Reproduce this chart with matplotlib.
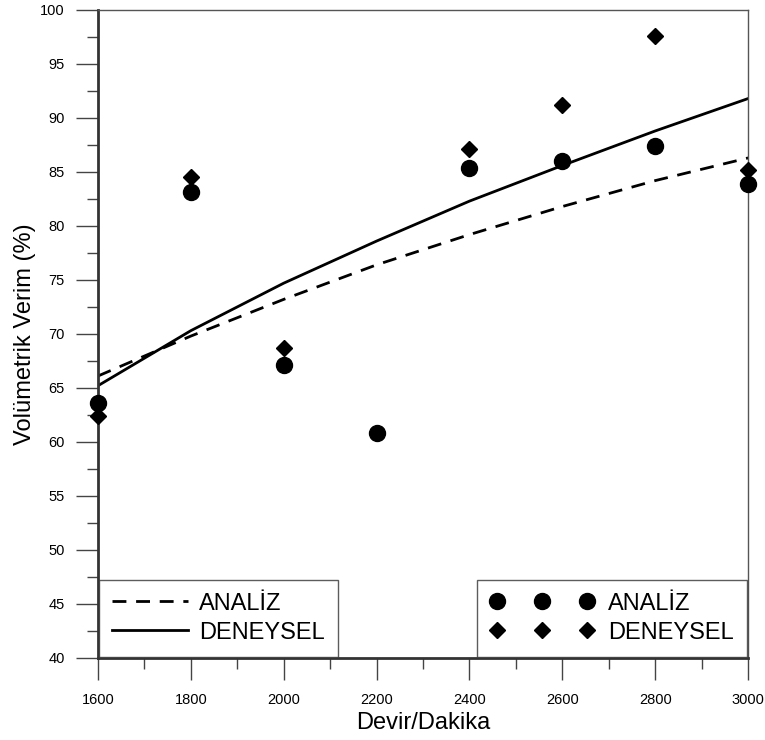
import matplotlib
matplotlib.use("Agg")
import matplotlib.pyplot as plt
from matplotlib.ticker import MultipleLocator

plt.rcParams['font.family'] = ['Liberation Sans', 'DejaVu Sans']

rpm = [1600, 1800, 2000, 2200, 2400, 2600, 2800, 3000]
analiz_pts = [63.6, 83.1, 67.1, 60.8, 85.4, 86.0, 87.4, 83.9]
deneysel_pts = [62.4, 84.5, 68.7, 60.8, 87.1, 91.2, 97.6, 85.2]
analiz_line = [66.1, 69.8, 73.2, 76.4, 79.2, 81.8, 84.2, 86.3]
deneysel_line = [65.2, 70.3, 74.7, 78.6, 82.3, 85.6, 88.8, 91.8]

fig = plt.figure(figsize=(7.65, 7.4), dpi=100)
ax = fig.add_axes([0.128, 0.111, 0.850, 0.8755])

l1, = ax.plot(rpm, analiz_line, color='black', lw=2, ls=(0, (5, 3.5)))
l2, = ax.plot(rpm, deneysel_line, color='black', lw=2, ls='-')
p1, = ax.plot(rpm, analiz_pts, 'o', color='black', ms=11.5, ls='none', clip_on=False, zorder=5)
p2, = ax.plot(rpm, deneysel_pts, 'D', color='black', ms=8, ls='none', clip_on=False, zorder=5)

ax.set_xlim(1600, 3000)
ax.set_ylim(40, 100)
ax.xaxis.set_major_locator(MultipleLocator(200))
ax.xaxis.set_minor_locator(MultipleLocator(100))
ax.yaxis.set_major_locator(MultipleLocator(5))
ax.yaxis.set_minor_locator(MultipleLocator(2.5))
ax.tick_params(which='major', direction='out', length=16, width=1, color='#444444', labelsize=10.5)
ax.tick_params(axis='x', which='major', pad=9)
ax.tick_params(axis='y', which='major', pad=8)
ax.tick_params(which='minor', direction='out', length=8, width=1, color='#444444')
for s in ax.spines.values():
    s.set_color('#555555')
    s.set_linewidth(1)
ax.spines['left'].set_linewidth(2)
ax.spines['left'].set_color('#333333')
ax.spines['bottom'].set_linewidth(2)
ax.spines['bottom'].set_color('#333333')

ax.set_xlabel('Devir/Dakika', fontsize=17, labelpad=4)
ax.set_ylabel('Volümetrik Verim (%)', fontsize=17, labelpad=3)

leg1 = ax.legend([l1, l2], ['ANALİZ', 'DENEYSEL'], loc='lower left',
                 bbox_to_anchor=(0.0, 0.0), fontsize=17, frameon=True, fancybox=False,
                 edgecolor='#333333', handlelength=3.2, handletextpad=0.5,
                 borderpad=0.55, labelspacing=0.3, borderaxespad=0.05)
leg1.get_frame().set_linewidth(1)
ax.add_artist(leg1)
leg2 = ax.legend([p1, p2], ['ANALİZ', 'DENEYSEL'], loc='lower right',
                 bbox_to_anchor=(1.0, 0.0), fontsize=17, frameon=True, fancybox=False,
                 edgecolor='#333333', numpoints=3, handlelength=4.4, handletextpad=0.6,
                 borderpad=0.55, labelspacing=0.3, borderaxespad=0.05)
leg2.get_frame().set_linewidth(1)

fig.savefig('out.png', dpi=100)
